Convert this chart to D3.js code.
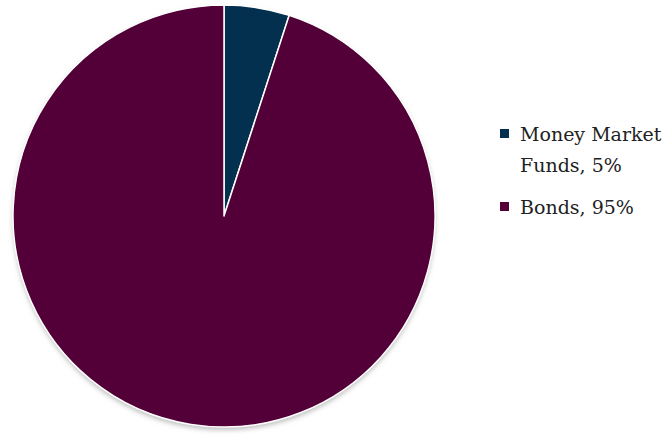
<!DOCTYPE html>
<html><head><meta charset="utf-8">
<script src="https://cdn.jsdelivr.net/npm/d3@7"></script>
<style>html,body{margin:0;padding:0;background:#fff;}</style>
</head><body>
<svg id="c" width="667" height="437"></svg>
<script>
const categories = ["Money Market Funds", "Bonds"];
const values = [5, 95];
const legendLines = [["Money Market", "Funds, 5%"], ["Bonds, 95%"]];
const colors = ["#04304f", "#520037"];

const svg = d3.select("#c");
const defs = svg.append("defs");
const f = defs.append("filter").attr("id","sh").attr("x","-10%").attr("y","-10%").attr("width","120%").attr("height","120%");
f.append("feDropShadow").attr("dx",0).attr("dy",3).attr("stdDeviation",2.5).attr("flood-color","#888").attr("flood-opacity",0.55);

const cx = 224, cy = 216, r = 211;
const pie = d3.pie().sort(null).value(d => d)(values);
const arc = d3.arc().innerRadius(0).outerRadius(r);
const g = svg.append("g").attr("transform", `translate(${cx},${cy})`);
g.append("circle").attr("r", r).attr("fill", "#fff").attr("filter","url(#sh)");
g.selectAll("path").data(pie).join("path")
  .attr("d", arc)
  .attr("fill", (d,i) => colors[i])
  .attr("stroke", "#fff").attr("stroke-width", 1.5).attr("stroke-linejoin","round");

const leg = svg.append("g").style("font-family", "'DejaVu Serif', serif").attr("font-size", 19).attr("fill", "#222");
const rows = [{y:141, i:0}, {y:214, i:1}];
rows.forEach(row => {
  leg.append("rect").attr("x", 500).attr("y", row.y - 12).attr("width", 9).attr("height", 9).attr("fill", colors[row.i]);
  legendLines[row.i].forEach((t, k) => {
    leg.append("text").attr("x", 520).attr("y", row.y + k*31).text(t);
  });
});
</script>
</body></html>
